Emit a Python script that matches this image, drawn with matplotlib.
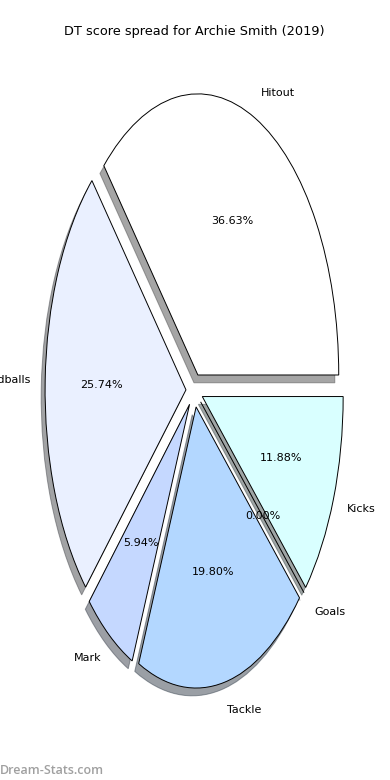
import matplotlib
matplotlib.use("Agg")
import matplotlib.pyplot as plt

player = "Archie Smith"
season = 2019
stats = ["Hitout", "Handballs", "Mark", "Tackle", "Goals", "Kicks"]
dt_points = [37, 26, 6, 20, 0, 12]
colors = ["#ffffff", "#eaf0ff", "#c5d8ff", "#b3d7ff", "#ffffff", "#d9ffff"]
explode = [0.06] * len(stats)

fig = plt.figure(figsize=(3.9, 7.8), dpi=100)
ax = fig.add_axes([0.047, 0.049, 0.903, 0.901])

wedges, texts, autotexts = ax.pie(dt_points, labels=stats, colors=colors, explode=explode,
                                  autopct="%1.2f%%", shadow=True, startangle=0,
                                  wedgeprops={"edgecolor": "black", "linewidth": 0.7},
                                  textprops={"fontsize": 8})
ax.set_aspect("auto")
ax.set_title(f"DT score spread for {player} ({season})", fontsize=9.3, pad=3)

fig.text(0.0, 0.004, "Dream-Stats.com", fontsize=9, color="#a0a0a0",
         family="Open Sans", fontweight="semibold", ha="left", va="bottom")

fig.savefig("out.png", dpi=100)
